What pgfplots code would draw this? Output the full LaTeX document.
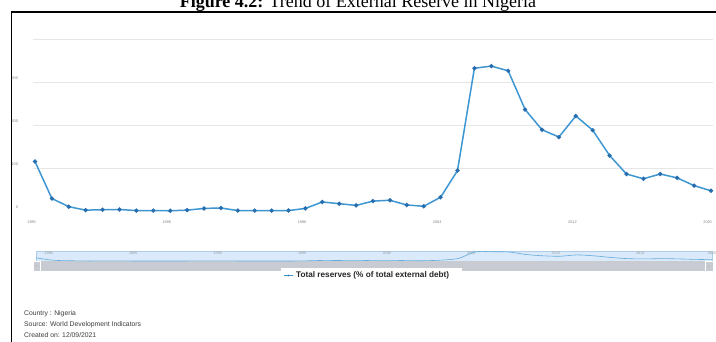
\documentclass[border=0pt]{standalone}
\usepackage{pgfplots}
\pgfplotsset{compat=1.18}
\usepackage{fontspec}
\setmainfont{Liberation Serif}
\newfontfamily\arial{Liberation Sans}
\definecolor{lineblue}{RGB}{62,150,210}
\definecolor{markblue}{RGB}{40,110,175}
\definecolor{navfill}{RGB}{218,234,250}
\definecolor{navdraw}{RGB}{175,205,235}
\definecolor{scrollg}{RGB}{200,204,210}
\definecolor{gridg}{RGB}{230,230,230}
\definecolor{tickg}{RGB}{130,130,130}
\definecolor{footg}{RGB}{60,60,60}

\pgfplotstableread{
year val
1980 115
1981 29
1982 10
1983 2
1984 3
1985 3.5
1986 1
1987 1
1988 0.5
1989 2
1990 6
1991 7
1992 1
1993 1
1994 1
1995 1
1996 6
1997 21
1998 17
1999 13
2000 23
2001 25
2002 14
2003 11
2004 32
2005 94
2006 332
2007 337
2008 326
2009 236
2010 189
2011 172
2012 221
2013 188
2014 129
2015 86
2016 75
2017 86
2018 77
2019 59
2020 47
}\datatable

\begin{document}
\begin{tikzpicture}[x=1pt,y=1pt]
\useasboundingbox (0,0) rectangle (716,341);
\begin{scope}
\clip (0,0) rectangle (716,341);
\fill[white] (0,0) rectangle (716,341);
% title
\node[anchor=base, font=\fontsize{18}{20}\selectfont] at (358,333) {\textbf{Figure 4.2:} Trend of External Reserve in Nigeria};
% frame
\draw[line width=1.3pt] (11.5,-2) -- (11.5,329) -- (720,329);

% main axis
\begin{axis}[
  at={(35pt,130pt)}, anchor=south west,
  scale only axis, width=676pt, height=172pt,
  xmin=1980, xmax=2020, ymin=0, ymax=400,
  axis lines=none, clip=false,
  xtick=\empty, ytick=\empty,
]
\foreach \g in {100,200,300,400} {
  \edef\tmp{\noexpand\draw[gridg, line width=0.7pt] (axis cs:1979.9,\g) -- (axis cs:2020.1,\g);}
  \tmp
}
\foreach \t in {0,100,200,300} {
  \edef\tmp{\noexpand\node[anchor=east, text=tickg, font=\noexpand\arial\noexpand\fontsize{3.8}{4}\noexpand\selectfont] at (axis cs:1979.2,\t+8) {\t};}
  \tmp
}
\foreach \t in {1980,1988,1996,2004,2012,2020} {
  \edef\tmp{\noexpand\node[text=tickg, font=\noexpand\arial\noexpand\fontsize{3.8}{4}\noexpand\selectfont] at (axis cs:\t-0.2,-26) {\t};}
  \tmp
}
\addplot[color=lineblue, line width=1.5pt, mark=*, mark size=1.3pt,
  mark options={fill=markblue, draw=markblue}] table[x=year, y=val] {\datatable};
\end{axis}

% navigator
\fill[navfill] (36,79) rectangle (712,90);
\draw[navdraw, line width=0.5pt] (36,79) rectangle (712,90);
\fill[scrollg] (33,70) rectangle (713,80);
\draw[white, line width=0.4pt] (33,70) rectangle (40,80);
\draw[white, line width=0.4pt] (705,70) rectangle (713,80);
\fill[white!60!black] (36,75) circle (0.6);
\fill[white!60!black] (709,75) circle (0.6);
\begin{axis}[
  at={(36pt,80pt)}, anchor=south west,
  scale only axis, width=676pt, height=9.5pt,
  xmin=1980, xmax=2020, ymin=0, ymax=345,
  axis lines=none, clip=false,
  xtick=\empty, ytick=\empty,
]
\foreach \t in {1980,1985,1990,1995,2000,2005,2010,2015} {
  \edef\tmp{\noexpand\node[anchor=west, text=tickg!80, font=\noexpand\arial\noexpand\fontsize{3.8}{4}\noexpand\selectfont] at (axis cs:\t+0.3,300) {\t};}
  \tmp
}
\node[anchor=west, text=tickg!80, font=\arial\fontsize{3.8}{4}\selectfont] at (axis cs:2019.55,300) {2020};
\addplot[color=lineblue!80, line width=0.6pt, smooth, no marks] table[x=year, y=val] {\datatable};
\end{axis}

% legend
\fill[white] (281,58) rectangle (462,73);
\draw[lineblue, line width=1.4pt] (284,65.5) -- (293,65.5);
\fill[markblue] (288.5,65.5) circle (0.9);
\node[anchor=west, inner sep=0pt, font=\arial\bfseries\fontsize{8.2}{9}\selectfont, text=black!85] at (296,65.5) {Total reserves (\% of total external debt)};

% footer
\begin{scope}[every node/.style={anchor=base west, inner sep=0pt, text=footg, font=\arial\fontsize{6.8}{8}\selectfont}]
\node at (24,25.5) {Country : Nigeria};
\node at (24,14.5) {Source: World Development Indicators};
\node at (24,3.5) {Created on: 12/09/2021};
\end{scope}
\end{scope}
\end{tikzpicture}
\end{document}
